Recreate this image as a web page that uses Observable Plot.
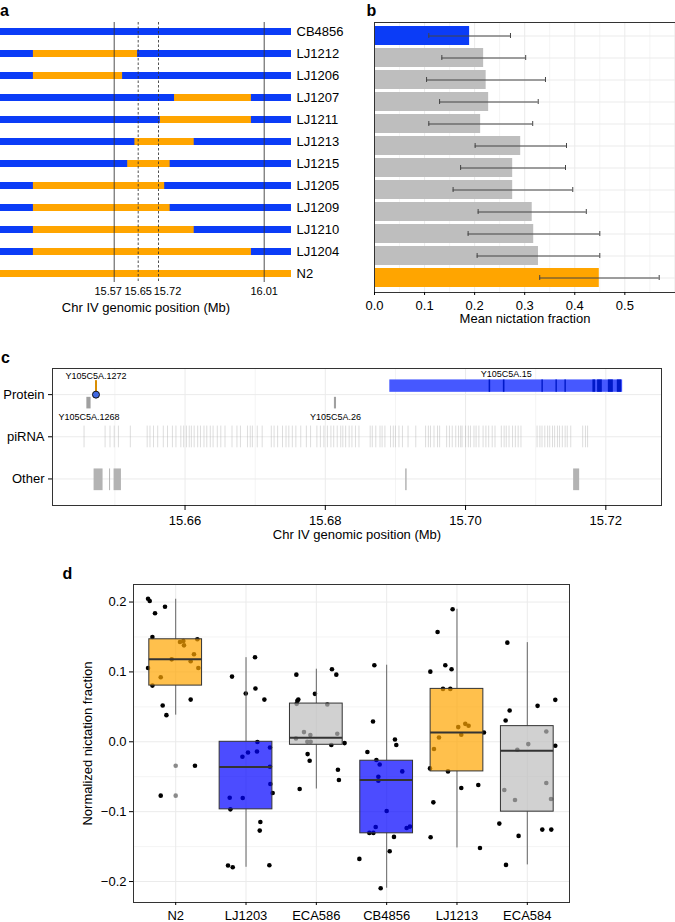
<!DOCTYPE html>
<html><head><meta charset="utf-8">
<script src="https://cdn.jsdelivr.net/npm/d3@7"></script>
<script src="https://cdn.jsdelivr.net/npm/@observablehq/plot@0.6"></script>
<style>
body{margin:0;background:#fff;}
#fig{position:relative;width:675px;height:922px;overflow:hidden;font-family:"Liberation Sans",Arial,Helvetica,sans-serif;}
.lab{position:absolute;font-weight:bold;font-size:16px;line-height:16px;font-family:"Liberation Sans",Arial,Helvetica,sans-serif;}
</style></head><body><div id="fig"></div>
<script>
// ---------- Panel a : introgression map ----------
const strains = ["CB4856","LJ1212","LJ1206","LJ1207","LJ1211","LJ1213","LJ1215","LJ1205","LJ1209","LJ1210","LJ1204","N2"];
const chrStart = 15.19, chrEnd = 16.085;
const introStart = [null,15.30,15.30,15.764,15.725,15.639,15.615,15.30,15.30,15.30,15.30,15.19];
const introEnd   = [null,15.648,15.598,15.975,15.975,15.818,15.752,15.737,15.752,15.818,15.975,16.085];
const solidMarks = [15.57, 16.01];
const dashedMarks = [15.65, 15.72];

// ---------- Panel b : mean nictation ----------
const meanNict = [0.190,0.218,0.223,0.228,0.212,0.292,0.276,0.276,0.315,0.318,0.3275,0.449];
const ciLow    = [0.1085,0.1345,0.104,0.130,0.1085,0.201,0.172,0.157,0.207,0.187,0.205,0.330];
const ciHigh   = [0.2716,0.302,0.3415,0.327,0.316,0.3835,0.3815,0.396,0.423,0.450,0.450,0.5686];
const bTicks = [0,0.1,0.2,0.3,0.4,0.5];

// ---------- Panel c : gene models ----------
const rowNames = ["Other","piRNA","Protein"]; // y = 1,2,3
const cTicks = [15.66,15.68,15.70,15.72];
const piRNA = [15.6456,15.6486,15.6493,15.6499,15.6505,15.6522,15.6546,15.6550,15.6555,15.6561,15.6569,15.6575,15.6582,15.6587,15.6594,15.6598,15.6602,15.6606,15.6609,15.6613,15.6618,15.6622,15.6627,15.6631,15.6636,15.6640,15.6646,15.6651,15.6657,15.6667,15.6674,15.6679,15.6689,15.6693,15.6696,15.6703,15.6710,15.6723,15.6727,15.6732,15.6739,15.6744,15.6748,15.6753,15.6758,15.6765,15.6773,15.6779,15.6788,15.6793,15.6798,15.6803,15.6808,15.6812,15.6817,15.6822,15.6825,15.6829,15.6834,15.6838,15.6843,15.6848,15.6864,15.6867,15.6872,15.6878,15.6881,15.6885,15.6893,15.6897,15.6900,15.6905,15.6910,15.6918,15.6929,15.6943,15.6947,15.6950,15.6955,15.6960,15.6963,15.6973,15.6977,15.6981,15.6986,15.6990,15.6993,15.6995,15.7000,15.7004,15.7007,15.7012,15.7015,15.7019,15.7025,15.7029,15.7033,15.7038,15.7042,15.7051,15.7055,15.7058,15.7062,15.7067,15.7071,15.7075,15.7079,15.7102,15.7106,15.7109,15.7113,15.7117,15.7120,15.7124,15.7127,15.7131,15.7134,15.7138,15.7142,15.7145,15.7150,15.7167,15.7171,15.7174];
const otherStart = [15.64703,15.64924,15.64988,15.69146,15.71541];
const otherEnd   = [15.64831,15.64938,15.65093,15.69167,15.71627];
const smallGeneNames = ["Y105C5A.1268","Y105C5A.26"];
const smallGeneStart = [15.6460,15.6813];
const smallGeneEnd   = [15.6466,15.6816];
const variantGene = "Y105C5A.1272";
const variantPos = 15.6473;
const bigGene = "Y105C5A.15";
const bigGeneStart = 15.6892, bigGeneEnd = 15.7224;
const exonStart = [15.70336,15.70539,15.71089,15.71289,15.71417,15.71816,15.71883,15.72036,15.72164];
const exonEnd   = [15.70358,15.70562,15.71109,15.71309,15.71437,15.71855,15.71950,15.72107,15.72225];

// ---------- Panel d : boxplots ----------
const dGroups = ["N2","LJ1203","ECA586","CB4856","LJ1213","ECA584"];
const boxQ1  = [0.0804,-0.0967,-0.0043,-0.131,-0.0424,-0.100];
const boxMed = [0.118,-0.036,0.0057,-0.0547,0.0133,-0.0129];
const boxQ3  = [0.1467,0.0,0.0547,-0.0271,0.0757,0.0224];
const boxLo  = [0.0381,-0.1796,-0.0676,-0.2096,-0.1519,-0.1762];
const boxHi  = [0.204,0.1204,0.1039,0.1096,0.1896,0.1419];
const outliersN2 = [-0.0343,-0.0771];
// [jitter, value]
const ptsN2 = [[-0.393,0.2047],[-0.369,0.2014],[-0.294,0.1839],[-0.152,0.1933],[-0.331,0.150],[0.061,0.1429],[0.109,0.1443],[0.118,0.138],[0.308,0.1467],[0.26,0.1253],[-0.057,0.118],[0.213,0.1153],[0.322,0.1057],[-0.393,0.1057],[-0.213,0.0924],[-0.331,0.0804],[0.213,0.0604],[-0.185,0.0519],[-0.132,0.0381],[0.274,-0.0343],[-0.213,-0.0771]];
const ptsLJ1203 = [[-0.199,0.0933],[0.128,0.121],[0.134,0.0762],[0.261,0.0604],[-0.004,0.069],[0.162,-0.0004],[0.341,-0.0081],[-0.051,-0.0214],[0.028,-0.0153],[0.156,-0.0139],[0.341,-0.0357],[0.346,-0.0604],[0.379,-0.0733],[-0.232,-0.08],[-0.047,-0.0805],[-0.222,-0.0967],[0.204,-0.1147],[0.195,-0.1271],[-0.256,-0.1771],[-0.189,-0.1796],[0.332,-0.1767]];
const ptsECA586 = [[-0.284,0.0961],[0.222,0.1039],[0.284,0.0961],[-0.02,0.0686],[-0.256,0.0604],[-0.27,0.0586],[-0.28,0.0543],[0.156,0.0533],[-0.176,0.0139],[-0.085,0.0096],[0.298,0.0114],[-0.29,0.0047],[-0.128,0.0],[-0.081,0.0],[0.213,-0.0047],[-0.124,-0.0176],[-0.095,-0.0271],[0.307,-0.04],[0.321,-0.0547],[-0.237,-0.0676],[0.402,-0.0019]];
const ptsCB4856 = [[-0.175,0.1096],[-0.194,0.029],[0.118,0.0033],[0.137,-0.0047],[-0.274,-0.0147],[-0.146,-0.0261],[-0.099,-0.0324],[0.222,-0.0424],[-0.118,-0.05],[-0.118,-0.0557],[0.0,-0.099],[-0.156,-0.1219],[-0.246,-0.1304],[-0.189,-0.1304],[0.284,-0.1233],[0.331,-0.1214],[0.104,-0.1361],[-0.388,-0.1676],[0.043,-0.1567],[-0.085,-0.2096]];
const ptsLJ1213 = [[-0.062,0.1896],[-0.276,0.1571],[-0.379,0.1004],[-0.166,0.1096],[-0.077,0.1039],[-0.199,0.0757],[-0.095,0.0757],[0.018,0.021],[0.118,0.0257],[0.165,0.0229],[0.061,0.01],[0.383,0.0133],[-0.256,0.0061],[-0.327,-0.0104],[-0.384,-0.0381],[-0.128,-0.0424],[0.061,-0.0662],[0.303,-0.0619],[-0.336,-0.0867],[-0.375,-0.1367],[0.327,-0.1519]];
const ptsECA584 = [[-0.284,0.1419],[0.398,0.06],[0.146,0.0514],[-0.251,0.0448],[-0.308,0.0305],[0.27,0.0147],[0.398,-0.0057],[0.014,-0.0033],[-0.142,-0.0114],[0.27,-0.059],[0.337,-0.0819],[-0.327,-0.069],[-0.175,-0.0833],[-0.398,-0.1171],[-0.124,-0.1347],[0.213,-0.1257],[0.341,-0.1257],[-0.303,-0.1762]];
const dYTicks = [-0.2,-0.1,0,0.1,0.2];

// ---------- styling ----------
const BLUE = "#0b3cf7", ORANGE = "#ffa500", GREY = "#bebebe";
const FONT = {fontFamily: "'Liberation Sans', Arial, Helvetica, sans-serif", fontSize: "13px", background: "transparent", overflow: "visible", color: "#000"};
const GRID = "#ebebeb", GRIDMINOR = "#f4f4f4", FRAME = "#333";
const fmt1 = d3.format(".1f"), fmt2 = d3.format(".2f");
const fig = document.getElementById("fig");
function place(node, left, top){ node.style.position = "absolute"; node.style.left = left + "px"; node.style.top = top + "px"; fig.appendChild(node); }
function label(t, left, top){ const d = document.createElement("div"); d.className = "lab"; d.textContent = t; d.style.left = left + "px"; d.style.top = top + "px"; fig.appendChild(d); }

// ---------- Panel a ----------
const aTable = strains.map((s, i) => ({strain: s, start: introStart[i], end: introEnd[i]}));
const aTickOpts = {tickSize: 0, tickPadding: 5, fontSize: 11, tickFormat: fmt2, label: null};
const plotA = Plot.plot({
  width: 340, height: 330, marginTop: 22, marginBottom: 48, marginLeft: 0, marginRight: 49,
  style: FONT,
  x: {type: "linear", domain: [15.19, 15.57, 15.65, 15.72, 16.01, 16.085], range: [0, 113.7, 137.7, 158, 263.7, 291]},
  y: {type: "point", domain: strains, range: [31, 273], padding: 0},
  marks: [
    Plot.ruleY(aTable.filter(d => d.strain !== "N2"), {y: "strain", x1: chrStart, x2: chrEnd, stroke: BLUE, strokeWidth: 7}),
    Plot.ruleY(aTable.filter(d => d.start != null), {y: "strain", x1: "start", x2: "end", stroke: ORANGE, strokeWidth: 7}),
    Plot.ruleX(solidMarks, {stroke: "#333", strokeWidth: 1, strokeOpacity: 0.85}),
    Plot.ruleX(dashedMarks, {stroke: "#333", strokeWidth: 1, strokeDasharray: "2.5,2", strokeOpacity: 0.85}),
    Plot.axisX({...aTickOpts, ticks: [15.65, 16.01]}),
    Plot.axisX({...aTickOpts, ticks: [15.57], dx: -6}),
    Plot.axisX({...aTickOpts, ticks: [15.72], dx: 9}),
    Plot.axisY({anchor: "right", tickSize: 0, tickPadding: 5, fontSize: 13, label: null}),
    Plot.text(["Chr IV genomic position (Mb)"], {frameAnchor: "bottom", dy: 29, fontSize: 13})
  ]
});
place(plotA, 0, 0);

// ---------- Panel b ----------
const bTable = strains.map((s, i) => ({strain: s, mean: meanNict[i], lo: ciLow[i], hi: ciHigh[i],
  color: s === "CB4856" ? BLUE : s === "N2" ? ORANGE : GREY}));
const plotB = Plot.plot({
  width: 335, height: 330, marginTop: 22, marginBottom: 38, marginLeft: 34, marginRight: 0,
  style: FONT,
  x: {domain: [0, 0.6012]},
  y: {type: "band", domain: strains, paddingInner: 0.12, paddingOuter: 0.16, axis: null},
  color: {type: "identity"},
  marks: [
    Plot.gridX({ticks: [0.05,0.15,0.25,0.35,0.45,0.55], stroke: GRIDMINOR, strokeOpacity: 1}),
    Plot.gridX({ticks: [0.1,0.2,0.3,0.4,0.5,0.6], stroke: GRID, strokeOpacity: 1}),
    Plot.gridY({stroke: GRID, strokeOpacity: 1}),
    Plot.barX(bTable, {x: "mean", y: "strain", fill: "color"}),
    Plot.ruleY(bTable, {y: "strain", x1: "lo", x2: "hi", stroke: "#444", strokeWidth: 1}),
    Plot.tickX(bTable, {x: "lo", y: "strain", stroke: "#444", insetTop: 7, insetBottom: 7}),
    Plot.tickX(bTable, {x: "hi", y: "strain", stroke: "#444", insetTop: 7, insetBottom: 7}),
    Plot.frame({stroke: FRAME}),
    Plot.axisX({ticks: bTicks, tickSize: 3, tickPadding: 5, tickFormat: fmt1, fontSize: 13, label: null}),
    Plot.text(["Mean nictation fraction"], {frameAnchor: "bottom", dy: 30.5, fontSize: 13})
  ]
});
place(plotB, 340, 0);

// ---------- Panel c ----------
const otherTable = otherStart.map((s, i) => ({s, e: otherEnd[i]}));
const smallTable = smallGeneNames.map((n, i) => ({name: n, s: smallGeneStart[i], e: smallGeneEnd[i], mid: (smallGeneStart[i] + smallGeneEnd[i]) / 2}));
const exonTable = exonStart.map((s, i) => ({s, e: exonEnd[i]}));
const plotC = Plot.plot({
  width: 675, height: 210, marginTop: 28, marginBottom: 45, marginLeft: 52, marginRight: 14,
  style: FONT,
  x: {domain: [15.6411, 15.72794]},
  y: {domain: [0.37, 3.62]},
  marks: [
    Plot.gridX({ticks: [15.65,15.67,15.69,15.71], stroke: GRIDMINOR, strokeOpacity: 1}),
    Plot.gridX({ticks: cTicks, stroke: GRID, strokeOpacity: 1}),
    Plot.gridY({ticks: [1,2,3], stroke: GRID, strokeOpacity: 1}),
    Plot.ruleX(piRNA, {x: d => d, y1: 1.739, y2: 2.254, stroke: "#aaa", strokeOpacity: 0.4, strokeWidth: 1}),
    Plot.rect(otherTable, {x1: "s", x2: "e", y1: 0.722, y2: 1.237, fill: "#b3b3b3"}),
    Plot.rect(smallTable, {x1: "s", x2: "e", y1: 2.661, y2: 2.936, fill: "#a0a0a0"}),
    Plot.text(smallTable, {x: "mid", y: 2.461, text: "name", fontSize: 9}),
    Plot.rect([bigGene], {x1: bigGeneStart, x2: bigGeneEnd, y1: 3.055, y2: 3.349, fill: "#4658ff"}),
    Plot.rect(exonTable, {x1: "s", x2: "e", y1: 3.055, y2: 3.349, fill: "#0019c8"}),
    Plot.text([bigGene], {x: (bigGeneStart + bigGeneEnd) / 2, y: 3.49, text: d => d, fontSize: 9}),
    Plot.ruleX([variantPos], {x: d => d, y1: 3, y2: 3.332, stroke: "#d98e04", strokeWidth: 2}),
    Plot.dot([variantPos], {x: d => d, y: 3, r: 3.5, fill: "#4169e1", stroke: "#111", strokeWidth: 1}),
    Plot.text([variantGene], {x: variantPos, y: 3.451, text: d => d, fontSize: 9}),
    Plot.frame({stroke: FRAME}),
    Plot.axisY({ticks: [1,2,3], tickFormat: d => rowNames[d - 1], tickSize: 4, tickPadding: 4, fontSize: 13, label: null}),
    Plot.axisX({ticks: cTicks, tickFormat: fmt2, tickSize: 5, tickPadding: 5, fontSize: 13, label: null}),
    Plot.text(["Chr IV genomic position (Mb)"], {frameAnchor: "bottom", dy: 33.5, fontSize: 13})
  ]
});
place(plotC, 0, 340);

// ---------- Panel d ----------
const dColors = [ORANGE, "#0000ff", GREY, "#0000ff", ORANGE, GREY];
const ptsAll = [ptsN2, ptsLJ1203, ptsECA586, ptsCB4856, ptsLJ1213, ptsECA584];
const points = ptsAll.flatMap((arr, i) => arr.map(([j, v]) => ({x: i + j, v})));
const outTable = outliersN2.map(v => ({x: 0, v}));
const boxTable = dGroups.map((g, i) => ({i, q1: boxQ1[i], med: boxMed[i], q3: boxQ3[i], lo: boxLo[i], hi: boxHi[i], color: dColors[i]}));
const plotD = Plot.plot({
  width: 675, height: 362, marginTop: 24, marginBottom: 20, marginLeft: 133, marginRight: 106,
  style: FONT,
  x: {domain: [-0.6, 5.6]},
  y: {domain: [-0.23, 0.2251]},
  color: {type: "identity"},
  marks: [
    Plot.gridY({ticks: [-0.15,-0.05,0.05,0.15], stroke: GRIDMINOR, strokeOpacity: 1}),
    Plot.gridY({ticks: dYTicks, stroke: GRID, strokeOpacity: 1}),
    Plot.gridX({ticks: [0,1,2,3,4,5], stroke: GRID, strokeOpacity: 1}),
    Plot.dot(points, {x: "x", y: "v", r: 2.3, fill: "#000"}),
    Plot.dot(outTable, {x: "x", y: "v", r: 2.3, fill: "#8a8a8a"}),
    Plot.ruleX(boxTable, {x: "i", y1: "q3", y2: "hi", stroke: "#666", strokeWidth: 1}),
    Plot.ruleX(boxTable, {x: "i", y1: "lo", y2: "q1", stroke: "#666", strokeWidth: 1}),
    Plot.rect(boxTable, {x1: d => d.i - 0.375, x2: d => d.i + 0.375, y1: "q1", y2: "q3", fill: "color", fillOpacity: 0.7, stroke: "#333", strokeWidth: 1}),
    Plot.ruleY(boxTable, {y: "med", x1: d => d.i - 0.375, x2: d => d.i + 0.375, stroke: "#333", strokeWidth: 2}),
    Plot.frame({stroke: FRAME}),
    Plot.axisY({ticks: dYTicks, tickFormat: fmt1, tickSize: 4, tickPadding: 3, fontSize: 13, label: null}),
    Plot.axisX({ticks: [0,1,2,3,4,5], tickFormat: d => dGroups[d], tickSize: 3, tickPadding: 5, fontSize: 13, label: null}),
    Plot.text(["Normalized nictation fraction"], {frameAnchor: "left", textAnchor: "middle", dx: -45.7, rotate: -90, fontSize: 13})
  ]
});
place(plotD, 0, 560);

label("a", 0, 2.5);
label("b", 366.5, 2.5);
label("c", 1, 349.5);
label("d", 62.5, 565.5);
</script></body></html>
